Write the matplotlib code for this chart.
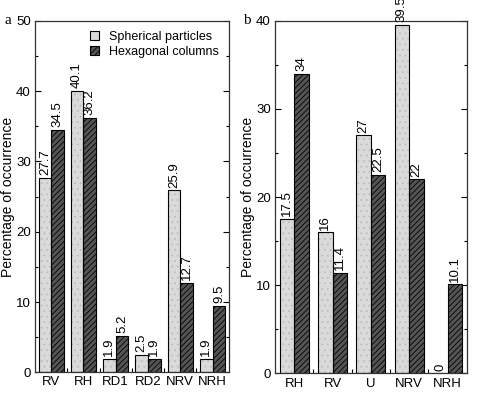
import numpy as np
import matplotlib
matplotlib.use('Agg')
import matplotlib.pyplot as plt
from matplotlib.patches import Patch

# data
cats_a = ['RV', 'RH', 'RD1', 'RD2', 'NRV', 'NRH']
spherical_a = [27.7, 40.1, 1.9, 2.5, 25.9, 1.9]
hexagonal_a = [34.5, 36.2, 5.2, 1.9, 12.7, 9.5]

cats_b = ['RH', 'RV', 'U', 'NRV', 'NRH']
spherical_b = [17.5, 16, 27, 39.5, 0]
hexagonal_b = [34, 11.4, 22.5, 22, 10.1]

plt.rcParams['font.family'] = ['Liberation Sans', 'DejaVu Sans']
plt.rcParams['hatch.linewidth'] = 0.6

SPH_FILL = '#dadada'
HEX_FILL = '#555555'


def fmt(v):
    """Writes the value like the original: no trailing .0"""
    return '{:g}'.format(v)


def draw_panel(ax, cats, sph, hexa, ymax, width):
    x = np.arange(len(cats))
    # spherical particles: light stippled bars
    ax.bar(x - width / 2, sph, width, color=SPH_FILL, edgecolor='#bdbdbd',
           hatch='...', linewidth=0, zorder=2)
    r1 = ax.bar(x - width / 2, sph, width, fill=False, edgecolor='black',
                linewidth=0.8, zorder=3)
    # hexagonal columns: dark hatched bars
    ax.bar(x + width / 2, hexa, width, color=HEX_FILL, edgecolor='black',
           hatch='//////', linewidth=0, zorder=2)
    r2 = ax.bar(x + width / 2, hexa, width, fill=False, edgecolor='black',
                linewidth=0.8, zorder=3)

    for rects, vals in ((r1, sph), (r2, hexa)):
        for rect, v in zip(rects, vals):
            ax.annotate(fmt(v), xy=(rect.get_x() + rect.get_width() / 2, v),
                        xytext=(0, 2), textcoords='offset points',
                        rotation=90, ha='center', va='bottom', fontsize=9.5,
                        annotation_clip=False)

    ax.set_xlim(-0.5, len(cats) - 0.5)
    ax.set_ylim(0, ymax)
    ax.set_xticks(x)
    ax.set_xticklabels(cats, fontsize=9.5)
    ax.set_xticks(np.arange(len(cats) - 1) + 0.5, minor=True)
    ax.tick_params(axis='x', which='major', length=0, pad=3)
    ax.tick_params(axis='x', which='minor', direction='in', length=3, width=0.8)
    ax.set_yticks(np.arange(0, ymax + 1, 10))
    ax.set_yticks(np.arange(5, ymax, 10), minor=True)
    ax.tick_params(axis='y', which='both', direction='in', right=True,
                   labelsize=9.5, width=0.8, pad=3)
    ax.tick_params(axis='y', which='major', length=4)
    ax.tick_params(axis='y', which='minor', length=2)
    for s in ax.spines.values():
        s.set_linewidth(0.9)
        s.set_color('#333333')
    ax.set_ylabel('Percentage of occurrence', fontsize=10, labelpad=1)


fig = plt.figure(figsize=(4.88, 3.93), dpi=100)
ax1 = fig.add_axes([0.0717, 0.0527, 0.397, 0.894])
ax2 = fig.add_axes([0.5635, 0.050, 0.393, 0.897])

draw_panel(ax1, cats_a, spherical_a, hexagonal_a, 50, 0.39)
draw_panel(ax2, cats_b, spherical_b, hexagonal_b, 40, 0.38)

# legend handles combine fill + outline
handles = [Patch(facecolor=SPH_FILL, edgecolor='black', linewidth=0.8),
           Patch(facecolor=HEX_FILL, edgecolor='black', hatch='//////', linewidth=0.8)]
ax1.legend(handles, ['Spherical particles', 'Hexagonal columns'], loc='upper right',
           frameon=False, fontsize=9, handlelength=0.7, handleheight=0.7,
           handletextpad=0.8, labelspacing=0.25, borderaxespad=0.4)

fig.text(0.010, 0.948, 'a', fontsize=11, family='Liberation Serif', va='center')
fig.text(0.499, 0.948, 'b', fontsize=11, family='Liberation Serif', va='center')

fig.savefig('out.png', dpi=100)
